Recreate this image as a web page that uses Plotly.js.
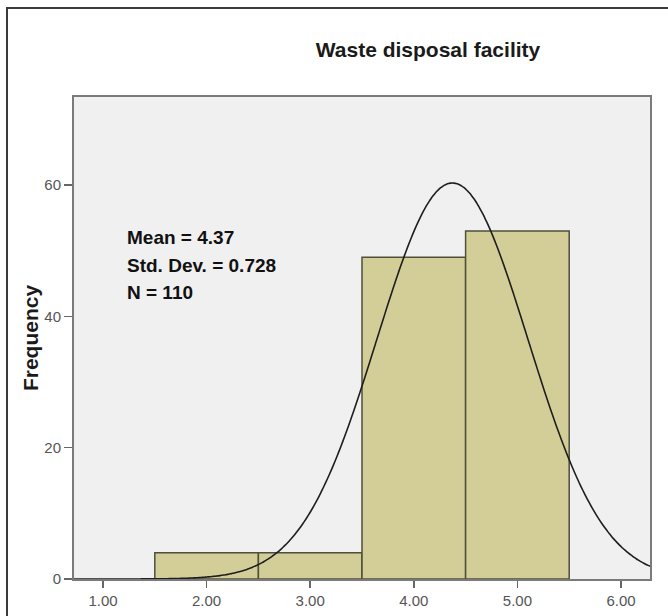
<!DOCTYPE html>
<html>
<head>
<meta charset="utf-8">
<script src="https://cdn.plot.ly/plotly-3.0.1.min.js"></script>
<style>
  html, body { margin: 0; padding: 0; background: #ffffff; }
  #wrap { position: relative; width: 668px; height: 616px; }
  #chart { width: 668px; height: 616px; }
  #frame {
    position: absolute; left: 6px; top: 7px; right: 0; bottom: 0;
    border-left: 2px solid #3a3a3a; border-top: 2px solid #3a3a3a;
    pointer-events: none;
  }
</style>
</head>
<body>
<div id="wrap">
  <div id="chart"></div>
  <div id="frame"></div>
</div>
<script>
// Histogram bins (bin centres, width 1) and their counts
const binCenters = [2, 3, 4, 5];
const binCounts = [4, 4, 49, 53];
const xTickVals = [1, 2, 3, 4, 5, 6];
const xTickText = ["1.00", "2.00", "3.00", "4.00", "5.00", "6.00"];
const yTickVals = [0, 20, 40, 60];
const chartTitle = "Waste disposal facility";
const yTitle = "Frequency";

// Summary statistics taken from the binned values
const N = binCounts.reduce((a, b) => a + b, 0);
const mean = binCenters.reduce((s, x, i) => s + x * binCounts[i], 0) / N;
const variance = binCenters.reduce((s, x, i) => s + binCounts[i] * (x - mean) ** 2, 0) / (N - 1);
const sd = Math.sqrt(variance);

// Fitted normal curve scaled to the histogram (count per unit bin)
const xRange = [0.72, 6.28];
const curveX = [];
const curveY = [];
for (let k = 0; k <= 300; k++) {
  const x = xRange[0] + (xRange[1] - xRange[0]) * k / 300;
  curveX.push(x);
  curveY.push(N * Math.exp(-0.5 * ((x - mean) / sd) ** 2) / (sd * Math.sqrt(2 * Math.PI)));
}

const bars = {
  type: "bar",
  x: binCenters,
  y: binCounts,
  width: 1,
  marker: { color: "#d3ce97", line: { color: "#4f4f3a", width: 1.5 } },
  hoverinfo: "x+y"
};

const curve = {
  type: "scatter",
  mode: "lines",
  x: curveX,
  y: curveY,
  line: { color: "#1e1e1e", width: 1.6, shape: "spline" },
  hoverinfo: "skip"
};

const FONT = "Liberation Sans, Arial, sans-serif";
const statFont = { family: FONT, size: 19, color: "#111111" };
const statLines = [
  "Mean = " + mean.toFixed(2),
  "Std. Dev. = " + sd.toFixed(3),
  "N = " + N
];
const statY = [0.7075, 0.651, 0.595];

const layout = {
  width: 668,
  height: 616,
  margin: { l: 74, r: 18, t: 97, b: 37 },
  paper_bgcolor: "#ffffff",
  plot_bgcolor: "#f0f0f0",
  showlegend: false,
  bargap: 0,
  title: {
    text: "<b>" + chartTitle + "</b>",
    font: { family: FONT, size: 21, color: "#1a1a1a" },
    xref: "container", x: 428 / 668, xanchor: "center",
    yref: "container", y: 1 - 50 / 616, yanchor: "middle"
  },
  xaxis: {
    range: xRange,
    tickvals: xTickVals,
    ticktext: xTickText,
    ticks: "outside",
    ticklen: 7,
    tickwidth: 1.5,
    tickcolor: "#666666",
    tickfont: { family: FONT, size: 15, color: "#555555" },
    showline: true,
    linecolor: "#7a7a7a",
    linewidth: 2,
    mirror: true,
    showgrid: false,
    zeroline: false,
    fixedrange: true
  },
  yaxis: {
    range: [0, 73.4],
    tickvals: yTickVals,
    ticks: "outside",
    ticklen: 8,
    tickwidth: 1.5,
    tickcolor: "#666666",
    tickfont: { family: FONT, size: 15, color: "#555555" },
    showline: true,
    linecolor: "#7a7a7a",
    linewidth: 2,
    mirror: true,
    showgrid: false,
    zeroline: false,
    fixedrange: true,
    title: {
      text: "<b>" + yTitle + "</b>",
      font: { family: FONT, size: 21, color: "#1a1a1a" },
      standoff: 0
    }
  },
  annotations: statLines.map((t, i) => ({
    text: "<b>" + t + "</b>",
    xref: "paper", yref: "paper",
    x: (125 - 74) / 576, y: statY[i],
    xanchor: "left", yanchor: "middle",
    showarrow: false,
    font: statFont
  }))
};

Plotly.newPlot("chart", [bars, curve], layout, { displayModeBar: false, staticPlot: true });
</script>
</body>
</html>
